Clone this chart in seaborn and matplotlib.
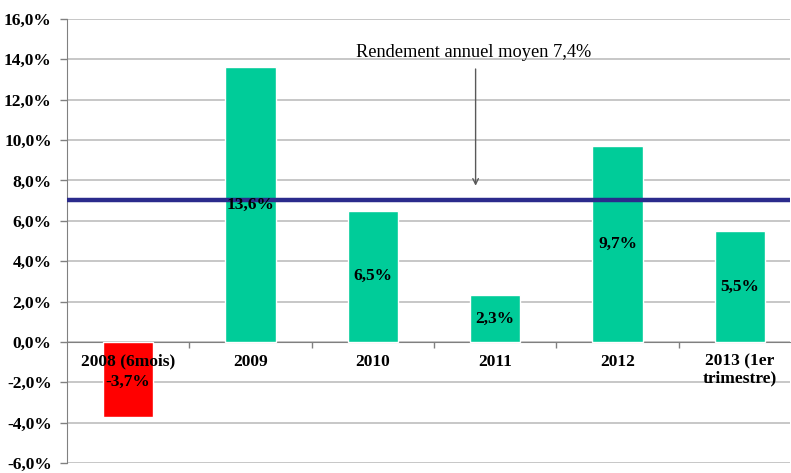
import matplotlib
matplotlib.use("Agg")
import matplotlib.pyplot as plt
import seaborn as sns
import numpy as np
import pandas as pd

categories = ["2008 (6mois)", "2009", "2010", "2011", "2012", "2013 (1er\ntrimestre)"]
values = [-3.7, 13.6, 6.5, 2.3, 9.7, 5.5]
bar_colors = ["#FF0000", "#00CC99", "#00CC99", "#00CC99", "#00CC99", "#00CC99"]
mean_line = 7.05
annotation_text = "Rendement annuel moyen 7,4%"
y_ticks = [-6, -4, -2, 0, 2, 4, 6, 8, 10, 12, 14, 16]

sns.set_style("white")
plt.rcParams['font.family'] = ['Liberation Serif', 'DejaVu Serif']
plt.rcParams['text.color'] = 'black'
plt.rcParams['xtick.color'] = 'black'
plt.rcParams['ytick.color'] = 'black'

fig = plt.figure(figsize=(7.91, 4.73), dpi=100)
ax = fig.add_axes([67/791, 1-463/473, (790-67)/791, (463-19)/473])

df = pd.DataFrame({"cat": categories, "val": values})
sns.barplot(data=df, x="cat", y="val", hue="cat", palette=bar_colors,
            legend=False, width=0.41, saturation=1, ax=ax, zorder=3)

ax.set_ylim(-6, 16)
ax.set_xlim(-0.5, 5.41)
ax.set_yticks(y_ticks)
ax.set_yticklabels([f"{t:.1f}".replace(".", ",") + "%" for t in y_ticks],
                   fontsize=12.5, fontweight="bold")
ax.yaxis.grid(True, color="#BEBEBE", linewidth=1.2)
ax.set_axisbelow(True)
ax.xaxis.set_zorder(6)
ax.set_xlabel("")
ax.set_ylabel("")

for s in ["top", "right"]:
    ax.spines[s].set_visible(False)
ax.spines["left"].set_color("#808080")
ax.spines["bottom"].set_color("#808080")
ax.spines["bottom"].set_position(("data", 0))
ax.spines["bottom"].set_zorder(2)
ax.tick_params(axis="y", left=True, length=5, color="#808080", labelcolor="black", width=1, pad=6)

ax.set_xticks(range(len(categories)))
ax.set_xticklabels(categories, fontsize=12.5, fontweight="bold", linespacing=1.05)
ax.tick_params(axis="x", which="major", bottom=False, pad=5, labelcolor="black")
ax.set_xticks([i + 0.5 for i in range(len(categories) - 1)], minor=True)
ax.tick_params(axis="x", which="minor", bottom=True, length=4, color="#808080", width=1)

ax.axhline(mean_line, color="#2B2B8C", linewidth=3.2, zorder=4)

for i, v in enumerate(values):
    y = v / 2 if v > 0 else v / 2 - 0.15
    ax.text(i, y, f"{v:.1f}".replace(".", ",") + "%", ha="center", va="center",
            fontsize=12.5, fontweight="bold", color="black", zorder=7)

ax.annotate("", xy=(2.84, 7.6), xytext=(2.84, 13.66),
            arrowprops=dict(arrowstyle="->", color="#595959", lw=1.0), zorder=5)
ax.text(2.82, 14.36, annotation_text, ha="center", va="center", fontsize=13.2,
        color="black", zorder=5)

fig.savefig("out.png", dpi=100)
